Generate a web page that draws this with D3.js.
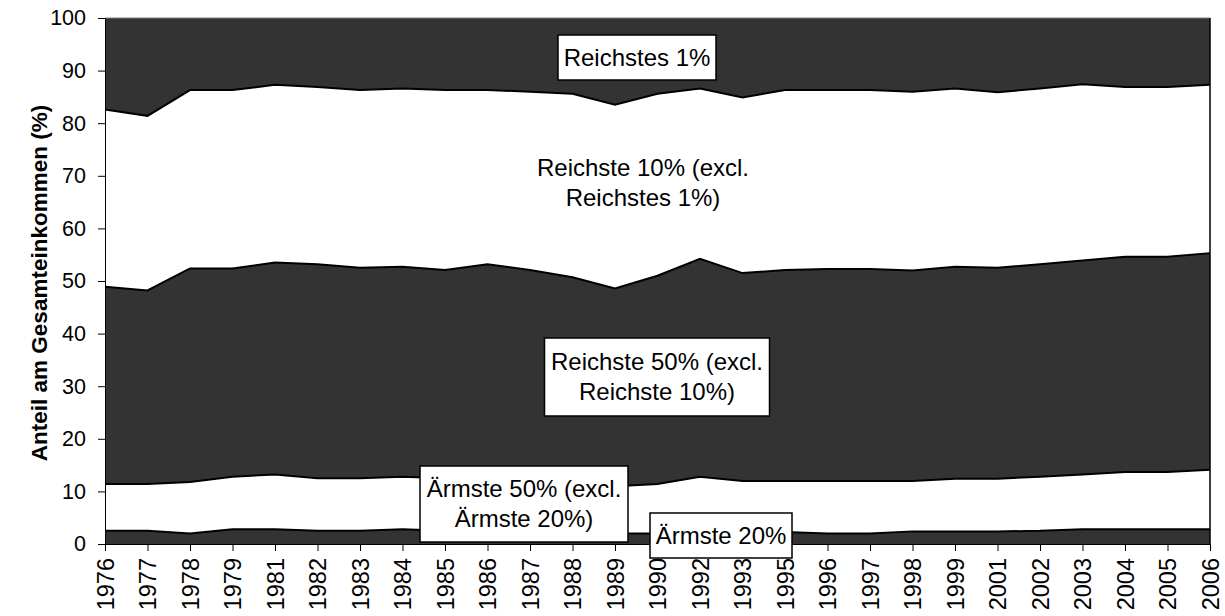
<!DOCTYPE html>
<html>
<head>
<meta charset="utf-8">
<script src="https://cdn.jsdelivr.net/npm/d3@7"></script>
<style>
  body { margin: 0; background: #fff; }
  text { font-family: "Liberation Sans", Arial, sans-serif; fill: #000; }
</style>
</head>
<body>
<div class="chart"></div>
<script>
// Chart data (shares of total income in %)
var years = ["1976","1977","1978","1979","1981","1982","1983","1984","1985","1986","1987","1988","1989","1990",
  "1992","1993","1995","1996","1997","1998","1999","2001","2002","2003","2004","2005","2006"];
var poorest20 = [2.5,2.5,2.0,2.8,2.8,2.5,2.5,2.8,2.5,2.5,2.3,2.2,2.0,2.0,2.3,2.3,2.3,2.0,2.0,2.4,2.4,2.4,2.5,2.8,2.8,2.8,2.8];
var poorest50ex = [8.9,8.9,9.8,10.0,10.4,10.0,10.0,10.0,10.0,9.8,9.7,9.3,9.0,9.4,10.5,9.7,9.7,10.0,10.0,9.6,10.0,10.0,10.3,10.4,10.9,10.9,11.3];
var richest50ex = [37.5,36.8,40.6,39.6,40.3,40.7,40.0,39.9,39.6,40.9,40.1,39.2,37.6,39.6,41.4,39.5,40.1,40.3,40.3,40.0,40.3,40.1,40.4,40.7,40.9,40.9,41.2];
var richest10ex = [33.7,33.2,33.9,33.9,33.8,33.7,33.8,33.9,34.2,33.1,33.9,34.9,34.9,34.6,32.4,33.4,34.2,34.0,34.0,34.0,33.9,33.4,33.4,33.5,32.3,32.3,32.0];
var richest1 = [17.4,18.6,13.7,13.7,12.7,13.1,13.7,13.4,13.7,13.7,14.0,14.4,16.5,14.4,13.4,15.1,13.7,13.7,13.7,14.0,13.4,14.1,13.4,12.6,13.1,13.1,12.7];
var yTicks = [0,10,20,30,40,50,60,70,80,90,100];

var svgWidth = 1225;
var svgHeight = 616;
var margin = { top: 18, right: 15, bottom: 72, left: 105 };
var chartWidth = svgWidth - margin.left - margin.right;
var chartHeight = svgHeight - margin.top - margin.bottom;

var svg = d3.select(".chart")
  .append("svg")
  .attr("width", svgWidth)
  .attr("height", svgHeight);

var chart = svg.append("g")
  .attr("transform", `translate(${margin.left}, ${margin.top})`);

// build rows for the stack
var keys = ["p20", "p50", "r50", "r10", "r1"];
var rows = years.map(function(y, i) {
  return { year: y, p20: poorest20[i], p50: poorest50ex[i], r50: richest50ex[i], r10: richest10ex[i], r1: richest1[i] };
});
var series = d3.stack().keys(keys)(rows);

var xScale = d3.scalePoint().domain(years).range([0, chartWidth]);
var yScale = d3.scaleLinear().domain([0, 100]).range([chartHeight, 0]);

var fills = ["#333333", "#ffffff", "#333333", "#ffffff", "#333333"];

var area = d3.area()
  .x(function(d) { return xScale(d.data.year); })
  .y0(function(d) { return yScale(d[0]); })
  .y1(function(d) { return yScale(d[1]); });

chart.selectAll(".band")
  .data(series)
  .enter()
  .append("path")
  .attr("class", "band")
  .attr("d", area)
  .attr("fill", function(d, i) { return fills[i]; });

// boundary lines between bands
var line = d3.line()
  .x(function(d) { return xScale(d.data.year); })
  .y(function(d) { return yScale(d[1]); });

chart.selectAll(".edge")
  .data(series.slice(0, 4))
  .enter()
  .append("path")
  .attr("class", "edge")
  .attr("d", line)
  .attr("fill", "none")
  .attr("stroke", "#000")
  .attr("stroke-width", 2);

// frame top and right
chart.append("line")
  .attr("x1", 0).attr("x2", chartWidth).attr("y1", 0).attr("y2", 0)
  .attr("stroke", "#808080").attr("stroke-width", 1);
chart.append("line")
  .attr("x1", chartWidth).attr("x2", chartWidth).attr("y1", 0).attr("y2", chartHeight)
  .attr("stroke", "#000").attr("stroke-width", 1.5);

// axes
var leftAxis = d3.axisLeft(yScale).tickValues(yTicks).tickSize(7).tickPadding(12);
var bottomAxis = d3.axisBottom(xScale).tickSize(7).tickPadding(0);

var gy = chart.append("g").call(leftAxis);
gy.selectAll("text").style("font-size", "21.5px");
gy.selectAll("line, path").attr("stroke", "#000");

var gx = chart.append("g")
  .attr("transform", `translate(0, ${chartHeight})`)
  .call(bottomAxis);
gx.selectAll("line, path").attr("stroke", "#000");
gx.selectAll("text")
  .style("font-size", "23.5px")
  .attr("text-anchor", "end")
  .attr("transform", "rotate(-90)")
  .attr("x", -14)
  .attr("y", 0)
  .attr("dy", "0.35em");

// y axis title
svg.append("text")
  .attr("transform", "translate(47," + (margin.top + chartHeight / 2 + 2) + ") rotate(-90)")
  .attr("text-anchor", "middle")
  .style("font-size", "22.5px")
  .style("font-weight", "bold")
  .text("Anteil am Gesamteinkommen (%)");

// band labels
var labels = [
  { lines: ["Reichstes 1%"], cx: 637, top: 35, w: 158, h: 45, box: true },
  { lines: ["Reichste 10% (excl.", "Reichstes 1%)"], cx: 643, top: 145, w: 240, h: 75, box: false },
  { lines: ["Reichste 50% (excl.", "Reichste 10%)"], cx: 657, top: 338, w: 225, h: 78, box: true },
  { lines: ["Ärmste 50% (excl.", "Ärmste 20%)"], cx: 524, top: 466, w: 208, h: 76, box: true },
  { lines: ["Ärmste 20%"], cx: 721, top: 513, w: 142, h: 45, box: true }
];

labels.forEach(function(l) {
  var g = svg.append("g");
  if (l.box) {
    g.append("rect")
      .attr("x", l.cx - l.w / 2)
      .attr("y", l.top)
      .attr("width", l.w)
      .attr("height", l.h)
      .attr("fill", "#fff")
      .attr("stroke", "#000")
      .attr("stroke-width", 1.5);
  }
  var lh = 30;
  var first = l.top + l.h / 2 - (l.lines.length - 1) * lh / 2 + 8;
  l.lines.forEach(function(t, i) {
    g.append("text")
      .attr("x", l.cx)
      .attr("y", first + i * lh)
      .attr("text-anchor", "middle")
      .style("font-size", "24px")
      .text(t);
  });
});
</script>
</body>
</html>
